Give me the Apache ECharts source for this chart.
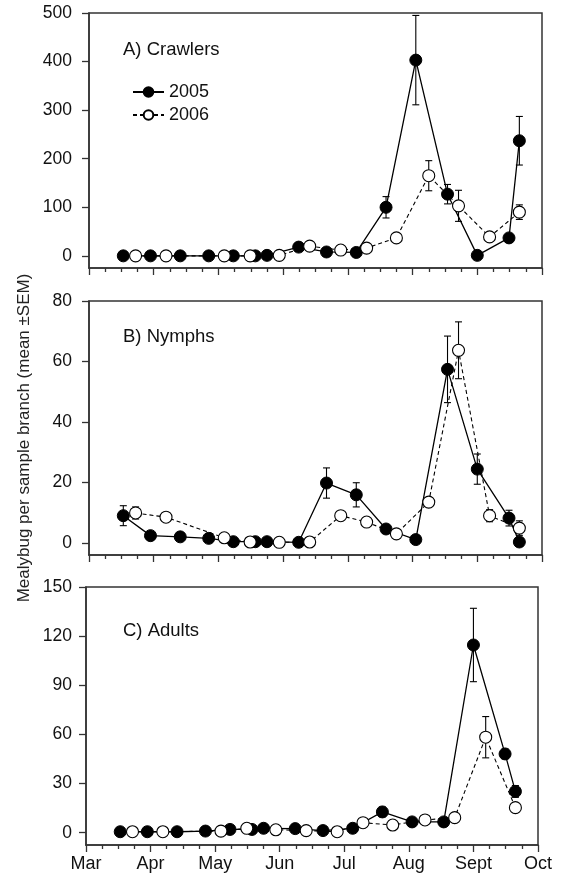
<!DOCTYPE html>
<html><head><meta charset="utf-8">
<script src="https://cdn.jsdelivr.net/npm/echarts@6/dist/echarts.min.js"></script>
<style>html,body{margin:0;padding:0;background:#fff}#c{width:561px;height:874px}</style>
</head><body><div id="c"></div>
<script>
// ---- data ----
const monthLabels = ['Mar','Apr','May','Jun','Jul','Aug','Sept','Oct']; // x = months since 1 Mar
const dates2005 = [0.53, 0.95, 1.41, 1.85, 2.23, 2.57, 2.75, 3.24, 3.67, 4.13, 4.59, 5.05, 5.54, 6.00, 6.49, 6.65];
const dates2006 = [0.72, 1.19, 2.09, 2.49, 2.94, 3.41, 3.89, 4.29, 4.75, 5.25, 5.71, 6.19, 6.65];

const crawlers2005    = [0, 0, 0, 0, 0, 0, 1, 18, 8, 7, 100, 403, 127, 1, 37, 237];
const crawlersErr2005 = [0, 0, 0, 0, 0, 0, 0, 0, 0, 0, 22, 92, 20, 0, 0, 50];
const crawlers2006    = [0, 0, 0, 0, 1, 20, 12, 16, 37, 165, 103, 39, 90];
const crawlersErr2006 = [0, 0, 0, 0, 0, 0, 0, 0, 0, 31, 32, 8, 15];

const nymphs2005    = [9.0, 2.4, 2.0, 1.5, 0.4, 0.4, 0.4, 0.2, 19.8, 15.9, 4.6, 1.1, 57.4, 24.4, 8.2, 0.3];
const nymphsErr2005 = [3.3, 0, 0, 0, 0, 0, 0, 0, 5, 4, 0, 0, 11, 5, 2.6, 0.6];
const nymphs2006    = [9.9, 8.5, 1.7, 0.3, 0.2, 0.3, 9.0, 6.9, 3.0, 13.5, 63.7, 9.0, 4.9];
const nymphsErr2006 = [2, 0, 0, 0, 0, 0, 0, 0, 0, 1.5, 9.4, 2, 2.4];

const adults2005    = [0.6, 0.6, 0.6, 1, 2, 2, 2.7, 2.5, 1.3, 2.7, 12.7, 6.6, 6.6, 114.6, 48.1, 25.2];
const adultsErr2005 = [0, 0, 0, 0, 0, 0, 0, 0, 0, 0, 3, 0, 0, 22.4, 3, 3.6];
const adults2006    = [0.6, 0.6, 1, 2.7, 1.8, 1.3, 0.6, 6.1, 4.7, 7.8, 9.2, 58.3, 15.3];
const adultsErr2006 = [0, 0, 0, 0, 0, 0, 0, 0, 0, 0, 0, 12.6, 2];

const yTicksA = [0, 100, 200, 300, 400, 500];
const yTicksB = [0, 20, 40, 60, 80];
const yTicksC = [0, 30, 60, 90, 120, 150];
const panelTitles = ['A) Crawlers', 'B) Nymphs', 'C) Adults'];
const yTitle = 'Mealybug per sample branch (mean \u00B1SEM)';

// ---- chart ----
const FONT = '"Liberation Sans", Arial, sans-serif';
const AX = '#333';
const chart = echarts.init(document.getElementById('c'), null, {renderer: 'canvas'});

const grids = [
  {left: 89, top: 13, width: 453, height: 255},
  {left: 89, top: 301, width: 453, height: 254},
  {left: 86, top: 587, width: 452, height: 258}
];
const yRanges = [[-25, 500, yTicksA, 17], [-4, 80, yTicksB, 17], [-7.5, 150, yTicksC, 14]];

function zip(xs, ys, es) { return xs.map((x, i) => es ? [x, ys[i], es[i]] : [x, ys[i]]); }

function errRender(params, api) {
  const x = api.value(0), y = api.value(1), e = api.value(2);
  if (!e) return null;
  const t = api.coord([x, y + e]), b = api.coord([x, y - e]);
  const w = 3.5;
  const st = {stroke: '#000', lineWidth: 1.1};
  return {type: 'group', children: [
    {type: 'line', shape: {x1: t[0], y1: t[1], x2: b[0], y2: b[1]}, style: st},
    {type: 'line', shape: {x1: t[0] - w, y1: t[1], x2: t[0] + w, y2: t[1]}, style: st},
    {type: 'line', shape: {x1: b[0] - w, y1: b[1], x2: b[0] + w, y2: b[1]}, style: st}
  ]};
}

const panels = [
  [crawlers2005, crawlersErr2005, crawlers2006, crawlersErr2006],
  [nymphs2005, nymphsErr2005, nymphs2006, nymphsErr2006],
  [adults2005, adultsErr2005, adults2006, adultsErr2006]
];

const xAxes = [], yAxes = [], series = [];
grids.forEach((g, i) => {
  xAxes.push({
    type: 'value', gridIndex: i, min: 0, max: 7, interval: 1,
    axisLine: {show: true, onZero: false, lineStyle: {color: AX, width: 1.5}},
    axisTick: {show: true, length: 7, lineStyle: {color: AX, width: 1.3}},
    minorTick: {show: true, splitNumber: 4, length: 4, lineStyle: {color: AX, width: 1.3}},
    splitLine: {show: false}, minorSplitLine: {show: false},
    axisLabel: {show: i === 2, margin: 10, fontSize: 18, fontFamily: FONT, color: '#111',
      formatter: v => monthLabels[Math.round(v)]}
  });
  const r = yRanges[i];
  yAxes.push({
    type: 'value', gridIndex: i, min: r[0], max: r[1],
    axisLine: {show: true, onZero: false, lineStyle: {color: AX, width: 1.5}},
    axisTick: {show: true, length: 7, customValues: r[2], lineStyle: {color: AX, width: 1.3}},
    splitLine: {show: false},
    axisLabel: {customValues: r[2], margin: r[3], fontSize: 17.5, fontFamily: FONT, color: '#111'}
  });
  const p = panels[i];
  series.push({
    type: 'custom', xAxisIndex: i, yAxisIndex: i, z: 1, renderItem: errRender,
    encode: {x: 0, y: 1}, data: zip(dates2005, p[0], p[1]), silent: true
  });
  series.push({
    type: 'custom', xAxisIndex: i, yAxisIndex: i, z: 1, renderItem: errRender,
    encode: {x: 0, y: 1}, data: zip(dates2006, p[2], p[3]), silent: true
  });
  series.push({
    name: '2005', type: 'line', xAxisIndex: i, yAxisIndex: i, z: 2,
    data: zip(dates2005, p[0]), symbol: 'circle', symbolSize: 12, showAllSymbol: true,
    lineStyle: {color: '#000', width: 1.3},
    itemStyle: {color: '#000', borderColor: '#000', borderWidth: 1}
  });
  series.push({
    name: '2006', type: 'line', xAxisIndex: i, yAxisIndex: i, z: 3,
    data: zip(dates2006, p[2]), symbol: 'circle', symbolSize: 12, showAllSymbol: true,
    lineStyle: {color: '#000', width: 1.1, type: [4, 3]},
    itemStyle: {color: '#fff', borderColor: '#000', borderWidth: 1.1}
  });
});

const titleY = [50, 337, 631];
const graphics = panelTitles.map((t, i) => ({
  type: 'text', left: 123, top: titleY[i] - 10,
  style: {text: t, fontSize: 18.5, fontFamily: FONT, fill: '#111'}
}));
graphics.push({
  type: 'text', x: 24, y: 438, rotation: Math.PI / 2,
  style: {text: yTitle, fontSize: 17, fontFamily: FONT, fill: '#222', align: 'center', verticalAlign: 'middle'}
});

chart.setOption({
  animation: false,
  backgroundColor: '#fff',
  grid: grids.map(g => Object.assign({show: true, borderColor: AX, borderWidth: 1.5, backgroundColor: 'transparent'}, g)),
  xAxis: xAxes,
  yAxis: yAxes,
  legend: {
    data: ['2005', '2006'], orient: 'vertical', left: 132, top: 83, padding: 0,
    itemWidth: 31, itemHeight: 12, itemGap: 5,
    textStyle: {fontSize: 18, fontFamily: FONT, color: '#111'}
  },
  graphic: graphics,
  series: series
});
</script></body></html>
